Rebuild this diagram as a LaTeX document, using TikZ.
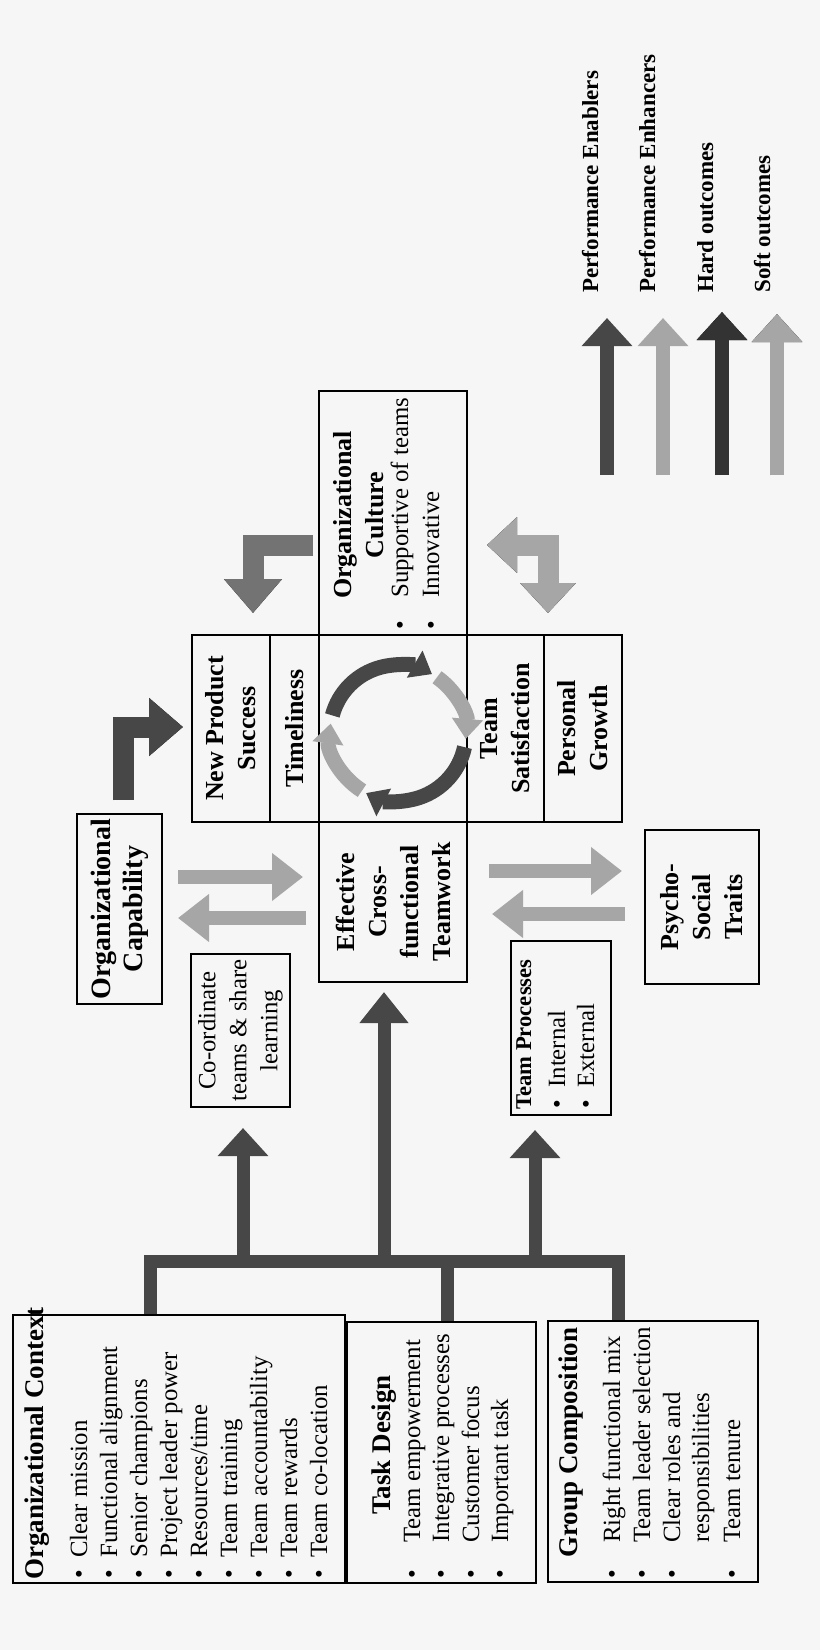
\documentclass[tikz,border=0pt]{standalone}
\usepackage{fontspec}
\setmainfont{Liberation Serif}
\usetikzlibrary{arrows.meta}
\definecolor{bg}{HTML}{F6F6F6}
\colorlet{dk}{black!72}
\colorlet{lt}{black!35}
\begin{document}
\begin{tikzpicture}[x=0.5pt,y=-0.5pt,
 box/.style={draw=black, line width=0.9pt, inner sep=0, rectangle},
 T/.style={rotate=90, inner sep=0, font=\fontsize{12.4}{15}\selectfont},
 H/.style={rotate=90, inner sep=0, font=\fontsize{12.8}{15}\selectfont\bfseries},
 C/.style={rotate=90, inner sep=0, align=center, font=\fontsize{13}{16}\selectfont\bfseries},
 L/.style={rotate=90, inner sep=0, font=\fontsize{11.5}{14}\selectfont\bfseries},
 up/.style={line width=6.5pt, -{Triangle[width=24.5pt,length=14pt]}},
 dbl/.style={lt, line width=7pt, -{Triangle[width=23pt,length=15.5pt]}},
 bent/.style={line width=10.5pt, line join=miter, -{Triangle[width=28pt,length=17pt]}},
 cyc/.style={line width=7.5pt, -{Triangle[width=15pt,length=10pt]}},
]
\fill[bg] (0,0) rectangle (820,1650);
\useasboundingbox (0,0) rectangle (820,1650);

% ---------- boxes ----------
\node[box, minimum width=166pt, minimum height=134pt] (ctx) at (179,1449) {};
\node[box, minimum width=94.5pt, minimum height=130.5pt] (task) at (441.5,1452.5) {};
\node[box, minimum width=105pt, minimum height=130.5pt] (grp) at (653,1451.5) {};
\node[box, minimum width=42.5pt, minimum height=95pt] (cap) at (119.5,909) {};
\node[box, minimum width=49.5pt, minimum height=76.5pt] (coord) at (240.5,1030.5) {};
\node[box, minimum width=74pt, minimum height=80pt] (eff) at (393,902) {};
\node[box, minimum width=39pt, minimum height=93.5pt] (nps) at (231,728.5) {};
\node[box, minimum width=24.5pt, minimum height=93.5pt] (time) at (294.5,728.5) {};
\node[box, minimum width=74pt, minimum height=93.5pt] (core) at (393,728.5) {};
\node[box, minimum width=38.5pt, minimum height=93.5pt] (sat) at (505.5,728.5) {};
\node[box, minimum width=39pt, minimum height=93.5pt] (grow) at (583,728.5) {};
\node[box, minimum width=74pt, minimum height=122pt] (cult) at (393,513) {};
\node[box, minimum width=50pt, minimum height=87pt] (proc) at (561,1028) {};
\node[box, minimum width=57pt, minimum height=77pt] (psy) at (702,907) {};

% ---------- Organizational Context ----------
\node[H, anchor=base west] (ctxh) at (43,1580) {\fontsize{13.5}{15}\selectfont Organizational Context};
\foreach \t [count=\i] in {Clear mission,Functional alignment,Senior champions,Project leader power,Resources/time,Team training,Team accountability,Team rewards,Team co-location}{
  \node[T, anchor=base] (cb\i) at ({57+30*\i},1574) {\textbullet};
  \node[T, anchor=base west] (ct\i) at ({57+30*\i},1558) {\t};
}
% ---------- Task Design ----------
\node[H, anchor=base] (tdh) at (390,1445) {\fontsize{13.5}{15}\selectfont Task Design};
\foreach \t/\p [count=\i] in {Team empowerment/420,Integrative processes/449,Customer focus/479,Important task/508}{
  \node[T, anchor=base] (tb\i) at (\p,1574) {\textbullet};
  \node[T, anchor=base west] (tt\i) at (\p,1543) {\t};
}
% ---------- Group Composition ----------
\node[H, anchor=base west] (gch) at (577,1558) {\fontsize{13.5}{15}\selectfont Group Composition};
\foreach \p in {620,650,680,740}{
  \node[T, anchor=base] at (\p,1574) {\textbullet};
}
\node[T, anchor=base west] (g1) at (620,1543) {Right functional mix};
\node[T, anchor=base west] (g2) at (650,1543) {Team leader selection};
\node[T, anchor=base west] (g3) at (680,1543) {Clear roles and};
\node[T, anchor=base west] (g4) at (709,1543) {responsibilities};
\node[T, anchor=base west] (g5) at (740,1543) {Team tenure};

% ---------- other texts ----------
\node[C, font=\fontsize{14}{16}\selectfont\bfseries] (capt) at (cap) {Organizational\\Capability};
\node[T, align=center, font=\fontsize{12.4}{15.5}\selectfont] (coordt) at (coord) {Co-ordinate\\teams \& share\\learning};
\node[C] (efft) at (eff) {Effective\\Cross-\\functional\\Teamwork};
\node[C] (npst) at (nps) {New Product\\Success};
\node[C] (timet) at (time) {Timeliness};
\node[C] (satt) at (sat) {Team\\Satisfaction};
\node[C] (growt) at (grow) {Personal\\Growth};
\node[C] (psyt) at (psy) {Psycho-\\Social\\Traits};
\node[C] (cultt) at (359,515) {Organizational\\Culture};
\node[T, anchor=base] at (408,625) {\textbullet};
\node[T, anchor=base] at (439,625) {\textbullet};
\node[T, anchor=base west] (cu1) at (408,598) {Supportive of teams};
\node[T, anchor=base west] (cu2) at (439,598) {Innovative};
\node[H, anchor=base west, font=\fontsize{11.3}{14}\selectfont\bfseries] (proch) at (531,1110) {Team Processes};
\node[T, anchor=base] at (565,1104) {\textbullet};
\node[T, anchor=base] at (594,1104) {\textbullet};
\node[T, anchor=base west] (pr1) at (565,1088) {Internal};
\node[T, anchor=base west] (pr2) at (594,1088) {External};

% ---------- tree ----------
\coordinate (barL) at (150,1261);
\coordinate (barR) at (618,1261);
\coordinate (tk) at (447,1261);
\draw[dk, line width=6.5pt, line join=miter] (barL |- ctx.north) -- (barL) -- (barR) -- (barR |- grp.north);
\draw[dk, line width=6.5pt] (tk) -- (tk |- task.north);
\coordinate (a1s) at (243,1261); \coordinate (a1e) at (243,1128);
\coordinate (a2s) at (384,1261); \coordinate (a2e) at (384,992);
\coordinate (a3s) at (535,1261); \coordinate (a3e) at (535,1130);
\draw[dk, up] (a1s) -- (a1e);
\draw[dk, up, -{Triangle[width=23.5pt,length=15.5pt]}] (a2s) -- (a2e);
\draw[dk, up] (a3s) -- (a3e);

% ---------- double arrows ----------
\coordinate (r1s) at (178,877); \coordinate (r1e) at (303,877);
\coordinate (r2s) at (306,918); \coordinate (r2e) at (178,918);
\coordinate (r3s) at (489,871); \coordinate (r3e) at (622,871);
\coordinate (r4s) at (625,914); \coordinate (r4e) at (492,914);
\draw[dbl] (r1s) -- (r1e);
\draw[dbl] (r2s) -- (r2e);
\draw[dbl] (r3s) -- (r3e);
\draw[dbl] (r4s) -- (r4e);

% ---------- bent arrows ----------
\coordinate (b1a) at (123,800); \coordinate (b1b) at (123,727); \coordinate (b1c) at (183,727);
\draw[black, bent, shift={(-7,-7)}] (b1a) -- (b1b) -- (b1c);
\draw[dk, bent] (b1a) -- (b1b) -- (b1c);
\coordinate (b2a) at (313,545); \coordinate (b2b) at (253,545); \coordinate (b2c) at (253,613);
\draw[black, bent, shift={(7,-8)}] (b2a) -- (b2b) -- (b2c);
\draw[black!55, bent] (b2a) -- (b2b) -- (b2c);
\coordinate (b3a) at (487,545); \coordinate (b3b) at (548,545); \coordinate (b3c) at (548,613);
\draw[black, bent, {Triangle[width=27pt,length=15pt]}-{Triangle[width=27pt,length=15pt]}, shift={(7,-7)}] (b3a) -- (b3b) -- (b3c);
\draw[lt, bent, {Triangle[width=27pt,length=15pt]}-{Triangle[width=27pt,length=15pt]}] (b3a) -- (b3b) -- (b3c);

% ---------- cycle ----------
\coordinate (cc) at (398,733);
\draw[dk, cyc] (cc) ++(195:68) arc[start angle=195, end angle=300, radius=68];
\draw[lt, cyc] (cc) ++(305:68) arc[start angle=305, end angle=365, radius=68];
\draw[dk, cyc] (cc) ++(12:68) arc[start angle=12, end angle=118, radius=68];
\draw[lt, cyc] (cc) ++(122:68) arc[start angle=122, end angle=188, radius=68];

% ---------- legend ----------
\coordinate (g1s) at (607,475); \coordinate (g1e) at (607,318);
\coordinate (g2s) at (663,475); \coordinate (g2e) at (663,318);
\coordinate (g3s) at (722,475); \coordinate (g3e) at (722,312);
\coordinate (g4s) at (777,475); \coordinate (g4e) at (777,314);
\draw[dk, up, line width=7pt] (g1s) -- (g1e);
\draw[lt, up, line width=7pt] (g2s) -- (g2e);
\draw[black, up, line width=7pt, shift={(5,-5)}] (g3s) -- (g3e);
\draw[black!80, up, line width=7pt] (g3s) -- (g3e);
\draw[black, up, line width=7pt, shift={(5,-5)}] (g4s) -- (g4e);
\draw[lt, up, line width=7pt] (g4s) -- (g4e);
\node[L, anchor=base west] (l1) at (598,293) {Performance Enablers};
\node[L, anchor=base west] (l2) at (655,293) {Performance Enhancers};
\node[L, anchor=base west] (l3) at (713,293) {Hard outcomes};
\node[L, anchor=base west] (l4) at (770,293) {Soft outcomes};
\end{tikzpicture}
\end{document}
